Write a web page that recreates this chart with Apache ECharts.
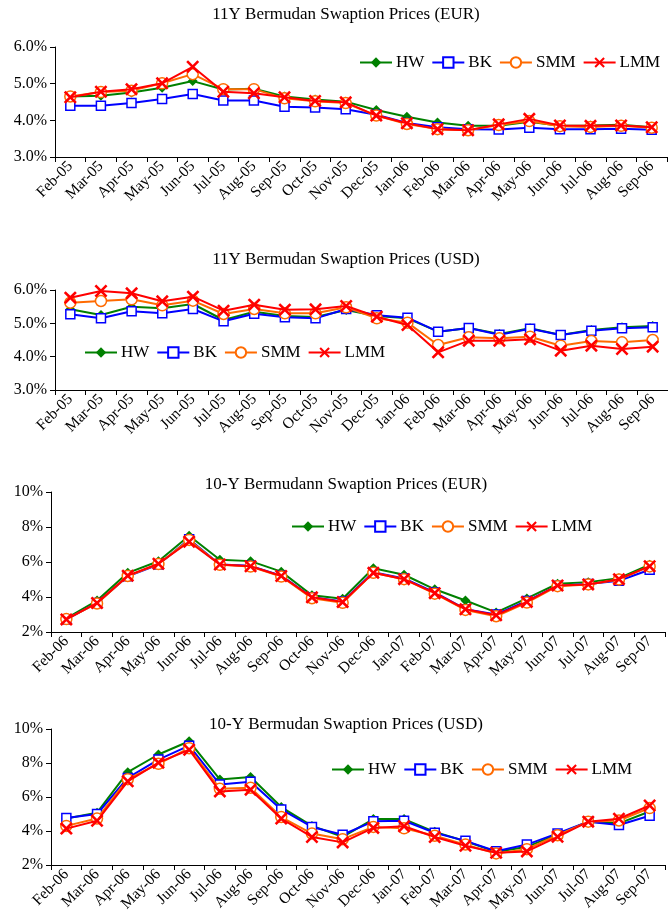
<!DOCTYPE html>
<html>
<head>
<meta charset="utf-8">
<script src="https://cdn.jsdelivr.net/npm/echarts@6/dist/echarts.min.js"></script>
<style>
html,body{margin:0;padding:0;background:#fff;}
#main{width:668px;height:915px;}
</style>
</head>
<body>
<div id="main"></div>
<script>
// ---- Data ----
const titles = [
  '11Y Bermudan Swaption Prices (EUR)',
  '11Y Bermudan Swaption Prices (USD)',
  '10-Y Bermudann Swaption Prices (EUR)',
  '10-Y Bermudan Swaption Prices (USD)'
];
const seriesNames = ['HW', 'BK', 'SMM', 'LMM'];
const cats0506 = ['Feb-05','Mar-05','Apr-05','May-05','Jun-05','Jul-05','Aug-05','Sep-05','Oct-05','Nov-05','Dec-05','Jan-06','Feb-06','Mar-06','Apr-06','May-06','Jun-06','Jul-06','Aug-06','Sep-06'];
const cats0607 = ['Feb-06','Mar-06','Apr-06','May-06','Jun-06','Jul-06','Aug-06','Sep-06','Oct-06','Nov-06','Dec-06','Jan-07','Feb-07','Mar-07','Apr-07','May-07','Jun-07','Jul-07','Aug-07','Sep-07'];

// Chart 1: 11Y EUR
const eur11HW  = [4.65,4.67,4.76,4.89,5.07,4.84,4.86,4.65,4.57,4.51,4.28,4.10,3.94,3.85,3.85,3.96,3.85,3.86,3.88,3.81];
const eur11BK  = [4.40,4.40,4.47,4.58,4.72,4.54,4.54,4.37,4.35,4.30,4.15,3.93,3.81,3.76,3.75,3.80,3.76,3.76,3.77,3.74];
const eur11SMM = [4.65,4.77,4.81,5.01,5.26,4.85,4.85,4.60,4.52,4.47,4.13,3.90,3.76,3.73,3.87,3.98,3.84,3.82,3.85,3.80];
const eur11LMM = [4.63,4.78,4.85,5.01,5.46,4.78,4.74,4.63,4.53,4.49,4.13,3.92,3.76,3.73,3.89,4.04,3.86,3.85,3.86,3.81];

// Chart 2: 11Y USD
const usd11HW  = [5.42,5.25,5.50,5.45,5.58,5.10,5.35,5.22,5.19,5.40,5.22,5.15,4.75,4.86,4.68,4.85,4.65,4.80,4.88,4.92];
const usd11BK  = [5.27,5.15,5.36,5.30,5.43,5.06,5.29,5.18,5.15,5.43,5.24,5.17,4.75,4.86,4.66,4.84,4.65,4.78,4.85,4.88];
const usd11SMM = [5.62,5.67,5.72,5.54,5.68,5.28,5.43,5.30,5.30,5.48,5.15,5.02,4.35,4.58,4.55,4.60,4.33,4.47,4.43,4.50];
const usd11LMM = [5.77,5.97,5.90,5.66,5.80,5.38,5.56,5.41,5.42,5.52,5.20,4.95,4.13,4.48,4.48,4.52,4.18,4.33,4.23,4.30];

// Chart 3: 10Y EUR
const eur10HW  = [2.78,3.80,5.38,6.04,7.50,6.13,6.05,5.45,4.10,3.90,5.64,5.27,4.44,3.80,3.12,3.92,4.76,4.85,5.07,5.85];
const eur10BK  = [2.72,3.66,5.18,5.86,7.30,5.86,5.78,5.22,3.98,3.74,5.42,5.06,4.26,3.30,3.00,3.77,4.65,4.74,4.93,5.56];
const eur10SMM = [2.74,3.63,5.20,5.88,7.26,5.84,5.74,5.17,3.93,3.67,5.38,5.02,4.19,3.26,2.90,3.68,4.62,4.72,5.00,5.75];
const eur10LMM = [2.72,3.66,5.22,5.90,7.16,5.86,5.76,5.20,3.98,3.71,5.38,5.02,4.22,3.30,2.96,3.72,4.66,4.72,5.02,5.76];

// Chart 4: 10Y USD
const usd10HW  = [4.73,5.08,7.46,8.50,9.28,7.03,7.18,5.41,4.30,3.66,4.70,4.70,3.95,3.40,2.77,3.07,3.80,4.55,4.45,5.15];
const usd10BK  = [4.77,5.00,7.12,8.20,9.02,6.74,6.90,5.27,4.24,3.78,4.57,4.60,3.90,3.42,2.81,3.20,3.86,4.55,4.35,4.90];
const usd10SMM = [4.30,4.73,7.05,7.95,8.87,6.48,6.54,4.82,3.85,3.52,4.24,4.16,3.72,3.20,2.68,2.93,3.75,4.55,4.62,5.35];
const usd10LMM = [4.14,4.60,6.92,8.02,8.78,6.33,6.43,4.73,3.65,3.33,4.18,4.28,3.65,3.13,2.72,2.80,3.66,4.55,4.72,5.50];

const chartCats = [cats0506, cats0506, cats0607, cats0607];
const chartData = [
  [eur11HW, eur11BK, eur11SMM, eur11LMM],
  [usd11HW, usd11BK, usd11SMM, usd11LMM],
  [eur10HW, eur10BK, eur10SMM, eur10LMM],
  [usd10HW, usd10BK, usd10SMM, usd10LMM]
];
const yRanges = [[3, 6, 1], [3, 6, 1], [2, 10, 2], [2, 10, 2]];

// ---- Layout / styles ----
const FONT = "'Liberation Serif', 'Times New Roman', serif";
const grids = [
  {left: 55, right: 1, top: 47, height: 110},
  {left: 55, right: 0, top: 290, height: 100},
  {left: 51, right: 3, top: 492, height: 140},
  {left: 51, right: 3, top: 729, height: 136}
];
const titlePos = [15, 260, 485, 725];
const legendPos = [[359, 54], [84, 344], [291, 518], [331, 761]];
const crossPath = 'path://M0,1.4L1.4,0L5,3.6L8.6,0L10,1.4L6.4,5L10,8.6L8.6,10L5,6.4L1.4,10L0,8.6L3.6,5Z';
const styles = {
  HW:  {color: '#008000', symbol: 'diamond', size: 10, width: 2, fill: '#008000', border: 0},
  BK:  {color: '#0000FF', symbol: 'rect', size: 9, width: 2, fill: '#ffffff', border: 1.5},
  SMM: {color: '#FF6A00', symbol: 'circle', size: 11, width: 2, fill: '#ffffff', border: 1.5},
  LMM: {color: '#FF0000', symbol: crossPath, size: 13, width: 2, fill: '#FF0000', border: 0}
};

const option = {
  animation: false,
  backgroundColor: '#ffffff',
  textStyle: {fontFamily: FONT},
  graphic: titles.map((t, i) => ({
    type: 'text', x: 346, y: titlePos[i],
    style: {text: t, font: '17px ' + FONT, fill: '#000', align: 'center', verticalAlign: 'middle'}
  })),
  legend: legendPos.map(p => ({
    data: seriesNames, left: p[0], top: p[1], padding: 0,
    itemWidth: 32, itemHeight: 13, itemGap: 7, selectedMode: false,
    textStyle: {fontFamily: FONT, fontSize: 17, color: '#000', padding: [0, 0, 0, -1]}
  })),
  grid: grids,
  xAxis: chartCats.map((c, i) => ({
    type: 'category', gridIndex: i, data: c, boundaryGap: true,
    axisLine: {lineStyle: {color: '#000', width: 1}},
    axisTick: {show: true, alignWithLabel: false, length: 5, lineStyle: {color: '#000'}},
    axisLabel: {rotate: 45, interval: 0, fontFamily: FONT, fontSize: 15.5, color: '#000', margin: 7},
    splitLine: {show: false}
  })),
  yAxis: yRanges.map((r, i) => ({
    type: 'value', gridIndex: i, min: r[0], max: r[1], interval: r[2],
    axisLine: {show: true, lineStyle: {color: '#000', width: 1}},
    axisTick: {show: true, length: 5, lineStyle: {color: '#000'}},
    axisLabel: {
      fontFamily: FONT, fontSize: 16, color: '#000', margin: 8,
      formatter: i < 2 ? (v => v.toFixed(1) + '%') : (v => v + '%')
    },
    splitLine: {show: false}
  })),
  series: []
};

chartData.forEach((set, gi) => {
  set.forEach((vals, si) => {
    const name = seriesNames[si];
    const s = styles[name];
    option.series.push({
      type: 'line', name: name, xAxisIndex: gi, yAxisIndex: gi,
      data: vals, symbol: s.symbol, symbolSize: s.size, showAllSymbol: true,
      z: 2 + si,
      lineStyle: {color: s.color, width: s.width},
      itemStyle: {color: s.fill, borderColor: s.color, borderWidth: s.border},
      emphasis: {disabled: true}
    });
  });
});

const chart = echarts.init(document.getElementById('main'), null, {renderer: 'canvas'});
chart.setOption(option);
</script>
</body>
</html>
